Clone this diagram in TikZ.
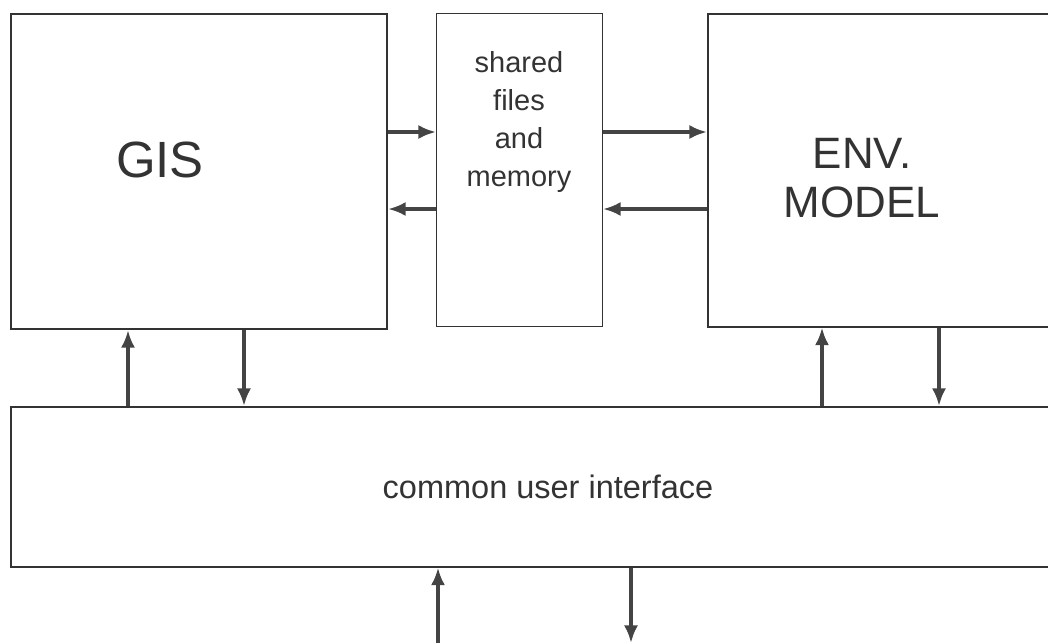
\documentclass[tikz,border=0pt]{standalone}
\usepackage{fontspec}
\setmainfont{Liberation Sans}
\usetikzlibrary{arrows.meta}
\definecolor{ink}{HTML}{333333}
\definecolor{arrowink}{HTML}{444444}
\begin{document}
\begin{tikzpicture}[x=0.02cm,y=-0.02cm,
  boxs/.style={draw=ink,rectangle,anchor=north west,inner sep=0pt},
  lbl/.style={text=ink,align=center,inner sep=0pt},
  arr/.style={draw=arrowink,line width=2.2pt,-{Latex[length=10pt,width=8pt]}},
  bigtxt/.style={font=\fontsize{25}{22}\selectfont},
  smalltxt/.style={font=\fontsize{16.5}{21.5}\selectfont}]
\useasboundingbox (0,0) rectangle (1048,643);
\clip (0,0) rectangle (1048,643);
% boxes
\node[boxs,line width=1.2pt,minimum width=7.52cm,minimum height=6.3cm] (gis) at (10,13) {};
\node[boxs,line width=0.6pt,minimum width=3.32cm,minimum height=6.26cm] (shared) at (436,13) {};
\node[boxs,line width=0.9pt,minimum width=8cm,minimum height=6.26cm] (env) at (707,13) {};
\node[boxs,line width=0.9pt,minimum width=21.5cm,minimum height=3.2cm] (iface) at (10,406) {};
% texts
\node[lbl,font=\fontsize{29}{30}\selectfont] (gistxt) at (160,160) {GIS};
\node[lbl,bigtxt] (envtxt) at (862,178) {ENV.\\[6pt]MODEL};
\node[lbl,smalltxt] (sharedtxt) at (519,122) {shared\\files\\and\\memory};
\node[lbl,font=\fontsize{18.5}{21.5}\selectfont] (ifacetxt) at (548,487) {common user interface};
% helper coordinates
\coordinate (r1) at (0,132);
\coordinate (r2) at (0,209);
\coordinate (c1) at (128,0);
\coordinate (c2) at (244,0);
\coordinate (c3) at (822,0);
\coordinate (c4) at (939,0);
\coordinate (b1) at (438,643);
\coordinate (b2) at (631,643);
% horizontal arrows
\draw[arr] (gis.east |- r1) -- (shared.west |- r1);
\draw[arr] (shared.west |- r2) -- (gis.east |- r2);
\draw[arr] (shared.east |- r1) -- (env.west |- r1);
\draw[arr] (env.west |- r2) -- (shared.east |- r2);
% vertical arrows
\draw[arr] (iface.north -| c1) -- (gis.south -| c1);
\draw[arr] (gis.south -| c2) -- (iface.north -| c2);
\draw[arr] (iface.north -| c3) -- (env.south -| c3);
\draw[arr] (env.south -| c4) -- (iface.north -| c4);
\draw[arr] (b1) -- (iface.south -| b1);
\draw[arr] (iface.south -| b2) -- (b2);
\end{tikzpicture}
\end{document}
